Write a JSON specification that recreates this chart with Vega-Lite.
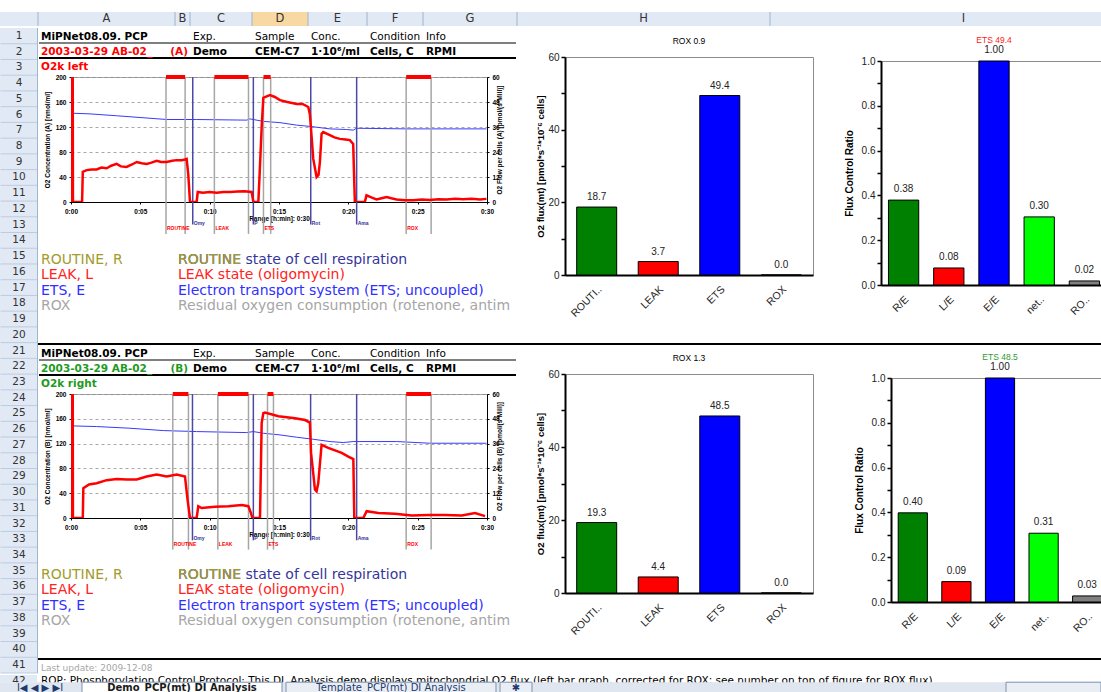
{
"$schema": "https://vega.github.io/schema/vega-lite/v6.json",
"background": "white",
"padding": {"left": 0, "top": 11, "right": 0, "bottom": 0},
"config": {
  "view": {"stroke": null},
  "font": "Liberation Sans",
  "axis": {"minExtent": 0, "labelFont": "Liberation Sans", "titleFont": "Liberation Sans"},
  "axisX": {"minExtent": 0},
  "axisY": {"minExtent": 0},
  "title": {"font": "Liberation Sans"}
},
"datasets": {
  "columns": [
    {"col": "", "s": -38, "e": 0},
    {"col": "A", "s": 0, "e": 137},
    {"col": "B", "s": 137, "e": 152},
    {"col": "C", "s": 152, "e": 214},
    {"col": "D", "s": 214, "e": 270},
    {"col": "E", "s": 270, "e": 329},
    {"col": "F", "s": 329, "e": 385},
    {"col": "G", "s": 385, "e": 479},
    {"col": "H", "s": 479, "e": 732},
    {"col": "I", "s": 732, "e": 1119}
  ],
  "rows": [{"r":1},{"r":2},{"r":3},{"r":4},{"r":5},{"r":6},{"r":7},{"r":8},{"r":9},{"r":10},{"r":11},{"r":12},{"r":13},{"r":14},{"r":15},{"r":16},{"r":17},{"r":18},{"r":19},{"r":20},{"r":21},{"r":22},{"r":23},{"r":24},{"r":25},{"r":26},{"r":27},{"r":28},{"r":29},{"r":30},{"r":31},{"r":32},{"r":33},{"r":34},{"r":35},{"r":36},{"r":37},{"r":38},{"r":39},{"r":40},{"r":41}],
  "hdr": [
    {"chamber": "A", "line": 1, "col": "A", "text": "MiPNet08.09. PCP", "role": "title"},
    {"chamber": "A", "line": 1, "col": "C", "text": "Exp.", "role": "label"},
    {"chamber": "A", "line": 1, "col": "D", "text": "Sample", "role": "label"},
    {"chamber": "A", "line": 1, "col": "E", "text": "Conc.", "role": "label"},
    {"chamber": "A", "line": 1, "col": "F", "text": "Condition", "role": "label"},
    {"chamber": "A", "line": 1, "col": "G", "text": "Info", "role": "label"},
    {"chamber": "A", "line": 2, "col": "A", "text": "2003-03-29 AB-02_", "role": "run"},
    {"chamber": "A", "line": 2, "col": "B", "text": "(A)", "role": "chamber"},
    {"chamber": "A", "line": 2, "col": "C", "text": "Demo", "role": "value"},
    {"chamber": "A", "line": 2, "col": "D", "text": "CEM-C7H2", "role": "value"},
    {"chamber": "A", "line": 2, "col": "E", "text": "1·10⁶/ml", "role": "value"},
    {"chamber": "A", "line": 2, "col": "F", "text": "Cells, CEM", "role": "value"},
    {"chamber": "A", "line": 2, "col": "G", "text": "RPMI", "role": "value"},
    {"chamber": "A", "line": 3, "col": "A", "text": "O2k left", "role": "run"},
    {"chamber": "B", "line": 1, "col": "A", "text": "MiPNet08.09. PCP", "role": "title"},
    {"chamber": "B", "line": 1, "col": "C", "text": "Exp.", "role": "label"},
    {"chamber": "B", "line": 1, "col": "D", "text": "Sample", "role": "label"},
    {"chamber": "B", "line": 1, "col": "E", "text": "Conc.", "role": "label"},
    {"chamber": "B", "line": 1, "col": "F", "text": "Condition", "role": "label"},
    {"chamber": "B", "line": 1, "col": "G", "text": "Info", "role": "label"},
    {"chamber": "B", "line": 2, "col": "A", "text": "2003-03-29 AB-02_", "role": "run"},
    {"chamber": "B", "line": 2, "col": "B", "text": "(B)", "role": "chamber"},
    {"chamber": "B", "line": 2, "col": "C", "text": "Demo", "role": "value"},
    {"chamber": "B", "line": 2, "col": "D", "text": "CEM-C7H2", "role": "value"},
    {"chamber": "B", "line": 2, "col": "E", "text": "1·10⁶/ml", "role": "value"},
    {"chamber": "B", "line": 2, "col": "F", "text": "Cells, CEM", "role": "value"},
    {"chamber": "B", "line": 2, "col": "G", "text": "RPMI", "role": "value"},
    {"chamber": "B", "line": 3, "col": "A", "text": "O2k right", "role": "run"}
  ],
  "legend": [
    {"line": 1, "col": "A", "text": "ROUTINE, R", "state": "ROUTINE"},
    {"line": 1, "col": "B", "text": "ROUTINE state of cell respiration", "state": "desc"},
    {"line": 1, "col": "B", "text": "ROUTINE", "state": "ROUTINE"},
    {"line": 2, "col": "A", "text": "LEAK, L", "state": "LEAK"},
    {"line": 2, "col": "B", "text": "LEAK state (oligomycin)", "state": "LEAK"},
    {"line": 3, "col": "A", "text": "ETS, E", "state": "ETS"},
    {"line": 3, "col": "B", "text": "Electron transport system (ETS; uncoupled)", "state": "ETS"},
    {"line": 4, "col": "A", "text": "ROX", "state": "ROX"},
    {"line": 4, "col": "B", "text": "Residual oxygen consumption (rotenone, antimycin A)", "state": "ROX"}
  ],
  "fluxA": [
    {"t":0,"flux":0},{"t":0.02,"flux":80},{"t":0.12,"flux":80},{"t":0.14,"flux":0},{"t":0.8,"flux":0},{"t":0.85,"flux":14.5},{"t":1.13,"flux":15.3},{"t":1.5,"flux":15.6},{"t":1.85,"flux":15.6},{"t":2.2,"flux":16.5},{"t":2.57,"flux":16.2},{"t":2.9,"flux":17.4},{"t":3.29,"flux":18.3},{"t":3.6,"flux":17.1},{"t":4.01,"flux":16.8},{"t":4.4,"flux":18.0},{"t":4.74,"flux":19.2},{"t":5.1,"flux":18.6},{"t":5.46,"flux":18.3},{"t":5.8,"flux":18.9},{"t":6.18,"flux":19.8},{"t":6.5,"flux":19.2},{"t":6.9,"flux":19.2},{"t":7.3,"flux":19.8},{"t":7.62,"flux":20.1},{"t":8.0,"flux":20.1},{"t":8.22,"flux":20.4},{"t":8.34,"flux":20.7},{"t":8.46,"flux":13},{"t":8.58,"flux":0},{"t":9.06,"flux":0},{"t":9.14,"flux":4.8},{"t":9.5,"flux":4.5},{"t":10,"flux":4.8},{"t":10.5,"flux":4.5},{"t":11,"flux":4.8},{"t":11.5,"flux":4.8},{"t":12,"flux":5.0},{"t":12.5,"flux":5.1},{"t":13.03,"flux":4.8},{"t":13.15,"flux":0},{"t":13.51,"flux":0},{"t":13.58,"flux":10},{"t":13.75,"flux":36},{"t":13.87,"flux":50},{"t":14.11,"flux":50.7},{"t":14.35,"flux":51.3},{"t":14.7,"flux":50.4},{"t":15.07,"flux":48.9},{"t":15.6,"flux":48.0},{"t":16.27,"flux":47.1},{"t":16.7,"flux":47.1},{"t":17.11,"flux":45.6},{"t":17.23,"flux":42},{"t":17.47,"flux":20.7},{"t":17.71,"flux":12},{"t":17.85,"flux":13},{"t":17.95,"flux":19.2},{"t":18.07,"flux":32.7},{"t":18.19,"flux":33.6},{"t":18.67,"flux":32.1},{"t":19.0,"flux":31},{"t":19.39,"flux":30.3},{"t":19.8,"flux":30},{"t":20.11,"flux":29.7},{"t":20.35,"flux":27.9},{"t":20.47,"flux":0},{"t":21.19,"flux":0},{"t":21.31,"flux":3.2},{"t":21.7,"flux":2.1},{"t":22.03,"flux":1.2},{"t":22.4,"flux":1.8},{"t":22.76,"flux":2.4},{"t":23.1,"flux":1.8},{"t":23.48,"flux":1.2},{"t":24.1,"flux":0.9},{"t":24.68,"flux":0.9},{"t":25.3,"flux":1.2},{"t":25.88,"flux":1.0},{"t":26.5,"flux":1.3},{"t":27.08,"flux":1.2},{"t":27.7,"flux":1.5},{"t":28.28,"flux":1.3},{"t":28.9,"flux":1.5},{"t":29.5,"flux":1.2},{"t":29.96,"flux":1.5}
  ],
  "fluxB": [
    {"t":0,"flux":0},{"t":0.02,"flux":80},{"t":0.12,"flux":80},{"t":0.14,"flux":0},{"t":0.85,"flux":0},{"t":0.89,"flux":14.4},{"t":1.3,"flux":16.2},{"t":1.85,"flux":16.8},{"t":2.57,"flux":18.3},{"t":3.29,"flux":18.9},{"t":4.01,"flux":18.6},{"t":4.74,"flux":18.6},{"t":5.46,"flux":20.1},{"t":6.18,"flux":21.0},{"t":6.9,"flux":20.1},{"t":7.62,"flux":21.0},{"t":8.22,"flux":20.1},{"t":8.41,"flux":8.7},{"t":8.58,"flux":0},{"t":9.06,"flux":0},{"t":9.18,"flux":5.7},{"t":9.42,"flux":4.8},{"t":10.38,"flux":5.4},{"t":11.35,"flux":5.7},{"t":12.31,"flux":6.3},{"t":12.79,"flux":5.7},{"t":12.98,"flux":2.4},{"t":13.08,"flux":0},{"t":13.63,"flux":0},{"t":13.75,"flux":45.9},{"t":13.87,"flux":50.7},{"t":13.99,"flux":51},{"t":14.96,"flux":49.2},{"t":16.16,"flux":48.3},{"t":16.88,"flux":47.4},{"t":17.23,"flux":46.2},{"t":17.31,"flux":31.5},{"t":17.47,"flux":21.6},{"t":17.59,"flux":13.8},{"t":17.71,"flux":12.9},{"t":17.83,"flux":16.8},{"t":18.07,"flux":35.4},{"t":18.55,"flux":33.9},{"t":19.52,"flux":31.5},{"t":20.0,"flux":29.7},{"t":20.36,"flux":28.5},{"t":20.43,"flux":0},{"t":21.08,"flux":0},{"t":21.32,"flux":3.3},{"t":22.16,"flux":2.4},{"t":23.36,"flux":2.1},{"t":24.57,"flux":1.2},{"t":25.77,"flux":1.5},{"t":26.97,"flux":1.5},{"t":28.18,"flux":1.2},{"t":29.14,"flux":2.4},{"t":29.86,"flux":0.9}
  ],
  "concA": [
    {"t":0.17,"o2":142},{"t":1.37,"o2":141},{"t":3.29,"o2":138},{"t":5.7,"o2":134},{"t":6.9,"o2":132},{"t":9.06,"o2":132},{"t":12.67,"o2":131},{"t":12.9,"o2":133},{"t":13.87,"o2":129},{"t":15.07,"o2":127},{"t":16.27,"o2":123},{"t":17.23,"o2":121},{"t":18.67,"o2":117},{"t":19.87,"o2":116},{"t":20.35,"o2":115},{"t":20.59,"o2":118},{"t":24.2,"o2":117},{"t":29.96,"o2":117}
  ],
  "concB": [
    {"t":0.0,"o2":138},{"t":0.05,"o2":148},{"t":0.17,"o2":148.5},{"t":1.85,"o2":147.5},{"t":4.25,"o2":144.8},{"t":6.66,"o2":141},{"t":9.06,"o2":139.4},{"t":11.47,"o2":138.3},{"t":12.67,"o2":137.8},{"t":13.15,"o2":139.4},{"t":13.87,"o2":136.7},{"t":15.07,"o2":134},{"t":16.27,"o2":130.3},{"t":17.47,"o2":127},{"t":18.67,"o2":123.3},{"t":19.63,"o2":121.7},{"t":20.35,"o2":123.3},{"t":23.48,"o2":123.3},{"t":25.88,"o2":120.6},{"t":29.96,"o2":120.6}
  ],
  "eventsA": [
    {"label":"ROUTINE","t0":6.85,"t1":8.23},{"label":"LEAK","t0":10.34,"t1":12.8},{"label":"ETS","t0":13.88,"t1":14.4},{"label":"ROX","t0":24.17,"t1":25.97}
  ],
  "eventsB": [
    {"label":"ROUTINE","t0":7.34,"t1":8.47},{"label":"LEAK","t0":10.59,"t1":12.8},{"label":"ETS","t0":14.17,"t1":14.6},{"label":"ROX","t0":24.17,"t1":25.97}
  ],
  "injA": [
    {"label":"Omy","t":8.78},{"label":"P","t":13.15},{"label":"Rot","t":17.29},{"label":"Ama","t":20.6}
  ],
  "injB": [
    {"label":"Omy","t":8.76},{"label":"P","t":13.15},{"label":"Rot","t":17.28},{"label":"Ama","t":20.6}
  ],
  "fluxBarsA": [
    {"state":"ROUTINE","flux":18.7},{"state":"LEAK","flux":3.7},{"state":"ETS","flux":49.4},{"state":"ROX","flux":0.0}
  ],
  "fluxBarsB": [
    {"state":"ROUTINE","flux":19.3},{"state":"LEAK","flux":4.4},{"state":"ETS","flux":48.5},{"state":"ROX","flux":0.0}
  ],
  "fcrA": [
    {"ratio":"R/E","fcr":0.379},{"ratio":"L/E","fcr":0.076},{"ratio":"E/E","fcr":1.0},{"ratio":"netR/E","fcr":0.304},{"ratio":"ROX/E","fcr":0.018}
  ],
  "fcrB": [
    {"ratio":"R/E","fcr":0.398},{"ratio":"L/E","fcr":0.091},{"ratio":"E/E","fcr":1.0},{"ratio":"netR/E","fcr":0.307},{"ratio":"ROX/E","fcr":0.027}
  ],
  "tabs": [
    {"label":"I◀  ◀  ▶  ▶I","s":0,"e":80,"kind":"nav"},
    {"label":"Demo_PCP(mt) DI Analysis","s":82,"e":282,"kind":"active"},
    {"label":"Template_PCP(mt) DI Analysis","s":286,"e":496,"kind":"tab"},
    {"label":"✱","s":500,"e":532,"kind":"tab"},
    {"label":"","s":1006,"e":1101,"kind":"scroll"}
  ]
},
"spacing": 0,
"resolve": {"scale": {"color": "independent"}},
"vconcat": [
  {
    "width": 1101, "height": 14,
    "data": {"name": "columns"},
    "layer": [
      {"mark": {"type": "rect"},
       "encoding": {
         "x": {"field": "s", "type": "quantitative", "scale": {"domain": [-38, 1063], "nice": false, "zero": false}, "axis": null},
         "x2": {"field": "e"},
         "fill": {"condition": {"test": "datum.col === 'D'", "value": "#f9d9a3"}, "value": "#e1e9f5"}
       }},
      {"mark": {"type": "rule", "color": "#9eb6ce"},
       "encoding": {"x": {"field": "e", "type": "quantitative", "axis": null}}},
      {"transform": [{"fold": ["s", "e"]}],
       "mark": {"type": "text", "font": "DejaVu Sans", "fontSize": 11.5, "color": "#333333", "baseline": "middle"},
       "encoding": {
         "x": {"aggregate": "mean", "field": "value", "type": "quantitative", "axis": null},
         "text": {"field": "col", "type": "nominal"}
       }}
    ]
  },
  {
    "spacing": 0,
    "resolve": {"scale": {"color": "independent"}},
    "hconcat": [
      {
        "width": 38, "height": 645,
        "data": {"name": "rows"},
        "layer": [
          {"mark": {"type": "rect", "fill": "#e1e9f5"},
           "encoding": {"y": {"field": "r", "type": "ordinal", "scale": {"paddingInner": 0, "paddingOuter": 0}, "axis": null}}},
          {"mark": {"type": "rule", "color": "#bccbe0", "strokeWidth": 1},
           "encoding": {
             "y": {"field": "r", "type": "ordinal", "bandPosition": 1, "axis": null},
             "x": {"datum": 0.5, "type": "quantitative", "scale": {"domain": [0, 38], "nice": false, "zero": false}, "axis": null},
             "x2": {"datum": 37.5}
           }},
          {"mark": {"type": "rule", "color": "#9eb6ce"},
           "encoding": {"x": {"datum": 37.5, "type": "quantitative", "axis": null}}},
          {"mark": {"type": "text", "font": "DejaVu Sans", "fontSize": 10.5, "color": "#333333", "baseline": "middle"},
           "encoding": {
             "y": {"field": "r", "type": "ordinal", "axis": null},
             "x": {"datum": 19, "type": "quantitative", "axis": null},
             "text": {"field": "r", "type": "ordinal"}
           }}
        ]
      },
      {
        "spacing": 0,
        "resolve": {"scale": {"color": "independent"}},
        "vconcat": [
          {
            "spacing": 17,
            "resolve": {"scale": {"color": "independent"}},
            "hconcat": [
              {
                "spacing": 0,
                "resolve": {"scale": {"color": "independent"}},
                "vconcat": [
                  {
                    "width": 440, "height": 45,
                    "data": {"name": "hdr"},
                    "transform": [
                      {"filter": "datum.chamber === 'A'"},
                      {"lookup": "col", "from": {"data": {"name": "columns"}, "key": "col", "fields": ["s", "e"]}}
                    ],
                    "encoding": {
                      "x": {"field": "s", "type": "quantitative", "scale": {"domain": [33, 473], "nice": false, "zero": false}, "axis": null},
                      "y": {"field": "line", "type": "ordinal", "scale": {"domain": [1, 2, 3], "paddingInner": 0, "paddingOuter": 0}, "axis": null}
                    },
                    "layer": [
                      {"transform": [{"filter": "datum.role === 'title'"}],
                       "mark": {"type": "rule", "color": "#7f7f7f", "strokeWidth": 2},
                       "encoding": {"y": {"field": "line", "type": "ordinal", "bandPosition": 1, "axis": null}, "x": {"datum": 1, "type": "quantitative", "axis": null}, "x2": {"datum": 478}}},
                      {"transform": [{"filter": "datum.role === 'value' && datum.col === 'C'"}],
                       "mark": {"type": "rule", "color": "black", "strokeWidth": 2},
                       "encoding": {"y": {"field": "line", "type": "ordinal", "bandPosition": 1, "axis": null}, "x": {"datum": 1, "type": "quantitative", "axis": null}, "x2": {"datum": 478}}},
                      {"transform": [{"filter": "datum.role === 'label'"}],
                       "mark": {"type": "text", "font": "DejaVu Sans", "fontSize": 10.5, "align": "left", "baseline": "middle", "dx": 3, "dy": 1, "color": "black"},
                       "encoding": {"text": {"field": "text"}}},
                      {"transform": [{"filter": "datum.role === 'title' || (datum.role === 'value' && datum.col !== 'D' && datum.col !== 'F')"}],
                       "mark": {"type": "text", "font": "DejaVu Sans", "fontSize": 10.5, "fontWeight": "bold", "align": "left", "baseline": "middle", "dx": 3, "dy": 1, "color": "black"},
                       "encoding": {"text": {"field": "text"}}},
                      {"transform": [{"filter": "datum.role === 'value' && (datum.col === 'D' || datum.col === 'F')"}],
                       "mark": {"type": "text", "font": "DejaVu Sans", "fontSize": 10.5, "fontWeight": "bold", "align": "left", "baseline": "middle", "dx": 3, "dy": 1, "color": "black", "limit": 49, "ellipsis": "\u200b"},
                       "encoding": {"text": {"field": "text"}}},
                      {"transform": [{"filter": "datum.role === 'run'"}],
                       "mark": {"type": "text", "font": "DejaVu Sans", "fontSize": 10.5, "fontWeight": "bold", "align": "left", "baseline": "middle", "dx": 3, "dy": 1, "color": "#ff0000"},
                       "encoding": {"text": {"field": "text"}}},
                      {"transform": [{"filter": "datum.role === 'chamber'"}],
                       "mark": {"type": "text", "font": "DejaVu Sans", "fontSize": 10.5, "fontWeight": "bold", "align": "right", "baseline": "middle", "dx": -2, "dy": 1, "color": "#ff0000"},
                       "encoding": {"x": {"field": "e", "type": "quantitative", "axis": null}, "text": {"field": "text"}}}
                    ]
                  },
                  {
                    "width": 416, "height": 125,
                    "view": {"stroke": "#8c8c8c", "strokeWidth": 1},
                    "layer": [
                      {"data": {"name": "concA"},
                       "mark": {"type": "line", "color": "#3a3aff", "strokeWidth": 1, "clip": true},
                       "encoding": {
                         "x": {"field": "t", "type": "quantitative", "scale": {"domain": [0, 30], "nice": false},
                               "axis": {"values": [0, 5, 10, 15, 20, 25, 30], "labelExpr": "'0:' + (datum.value < 10 ? '0' : '') + datum.value", "labelFontSize": 6.5, "labelFontWeight": "bold", "labelColor": "black", "labelFlush": false, "tickSize": 2, "tickColor": "black", "labelPadding": 4, "domainColor": "black", "grid": false, "title": "Range [h:min]: 0:30", "titleFontSize": 6.5, "titleFontWeight": "bold", "titleColor": "black", "titlePadding": 1, "minExtent": 0}},
                         "y": {"field": "o2", "type": "quantitative", "scale": {"domain": [0, 200], "nice": false},
                               "axis": {"values": [0, 40, 80, 120, 160, 200], "grid": true, "gridDash": [3, 3], "gridColor": "#a8a8a8", "labelFontSize": 6.5, "labelFontWeight": "bold", "labelColor": "black", "labelFlush": false, "tickSize": 2, "tickColor": "black", "labelPadding": 3, "domainColor": "black", "title": "O2 Concentration (A) [nmol/ml]", "titleFontSize": 6.5, "titleFontWeight": "bold", "titleColor": "black", "titlePadding": 5, "minExtent": 0}}
                       }},
                      {"data": {"name": "eventsA"},
                       "mark": {"type": "rule", "color": "#a6a6a6", "strokeWidth": 1.5},
                       "encoding": {"x": {"field": "t0", "type": "quantitative"}, "y": {"datum": 200, "type": "quantitative", "scale": {"domain": [0, 200], "nice": false}, "axis": null}, "y2": {"datum": -51}}},
                      {"data": {"name": "eventsA"},
                       "mark": {"type": "rule", "color": "#a6a6a6", "strokeWidth": 1.5},
                       "encoding": {"x": {"field": "t1", "type": "quantitative"}, "y": {"datum": 200, "type": "quantitative", "scale": {"domain": [0, 200], "nice": false}, "axis": null}, "y2": {"datum": -51}}},
                      {"data": {"name": "injA"},
                       "mark": {"type": "rule", "color": "#4a4aa6", "strokeWidth": 1.5},
                       "encoding": {"x": {"field": "t", "type": "quantitative"}, "y": {"datum": 200, "type": "quantitative", "scale": {"domain": [0, 200], "nice": false}, "axis": null}, "y2": {"datum": -36}}},
                      {"data": {"name": "eventsA"},
                       "mark": {"type": "rule", "color": "#ff0000", "strokeWidth": 4},
                       "encoding": {"x": {"field": "t0", "type": "quantitative"}, "x2": {"field": "t1"}, "y": {"datum": 200, "type": "quantitative", "scale": {"domain": [0, 200], "nice": false}, "axis": null}}},
                      {"data": {"name": "eventsA"},
                       "mark": {"type": "text", "color": "#ff0000", "fontSize": 5, "fontWeight": "bold", "align": "left", "baseline": "middle", "dx": 1},
                       "encoding": {"x": {"field": "t0", "type": "quantitative"}, "y": {"datum": -42, "type": "quantitative", "scale": {"domain": [0, 200], "nice": false}, "axis": null}, "text": {"field": "label"}}},
                      {"data": {"name": "injA"},
                       "mark": {"type": "text", "color": "#33339a", "fontSize": 5, "fontWeight": "bold", "align": "left", "baseline": "middle", "dx": 1},
                       "encoding": {"x": {"field": "t", "type": "quantitative"}, "y": {"datum": -33, "type": "quantitative", "scale": {"domain": [0, 200], "nice": false}, "axis": null}, "text": {"field": "label"}}},
                      {"data": {"name": "fluxA"},
                       "mark": {"type": "line", "color": "#ff0000", "strokeWidth": 2.5, "clip": true},
                       "encoding": {
                         "x": {"field": "t", "type": "quantitative"},
                         "y": {"field": "flux", "type": "quantitative", "scale": {"domain": [0, 60], "nice": false},
                               "axis": {"orient": "right", "values": [0, 12, 24, 36, 48, 60], "grid": false, "labelFontSize": 6.5, "labelFontWeight": "bold", "labelColor": "black", "labelFlush": false, "tickSize": 2, "tickColor": "black", "labelPadding": 3, "domainColor": "black", "title": "O2 Flow per cells (A) [pmol/(s*Mill)]", "titleFontSize": 6.5, "titleFontWeight": "bold", "titleColor": "black", "titlePadding": 3, "titleAngle": 270, "minExtent": 0}}
                       }}
                    ],
                    "resolve": {"scale": {"y": "independent"}}
                  },
                  {
                    "width": 440, "height": 107,
                    "data": {"name": "legend"},
                    "transform": [{"lookup": "col", "from": {"data": {"name": "columns"}, "key": "col", "fields": ["s"]}}],
                    "mark": {"type": "text", "font": "DejaVu Sans", "fontSize": 14, "align": "left", "baseline": "middle", "dx": 3, "dy": 1, "limit": 338, "ellipsis": "\u200b"},
                    "encoding": {
                      "x": {"field": "s", "type": "quantitative", "scale": {"domain": [33, 473], "nice": false, "zero": false}, "axis": null},
                      "y": {"field": "line", "type": "ordinal", "scale": {"domain": [0, 1, 2, 3, 4, 5, 6], "paddingInner": 0, "paddingOuter": 0}, "axis": null},
                      "text": {"field": "text"},
                      "color": {"field": "state", "type": "nominal", "scale": {"domain": ["ROUTINE", "LEAK", "ETS", "ROX", "desc"], "range": ["#a39b2b", "#ff2222", "#2f2fff", "#a6a6a6", "#35359b"]}, "legend": null}
                    }
                  }
                ]
              },
              {
                "spacing": 0,
                "resolve": {"scale": {"color": "independent"}},
                "vconcat": [
                  {"width": 261, "height": 8, "data": {"values": []}, "mark": "point"},
                  {
                    "width": 248, "height": 218,
                    "view": {"stroke": "#8c8c8c", "strokeWidth": 1},
                    "title": {"text": "ROX 0.9", "fontSize": 8.5, "fontWeight": "normal", "offset": 7, "color": "black", "frame": "group"},
                    "data": {"name": "fluxBarsA"},
                    "encoding": {
                      "x": {"field": "state", "type": "nominal", "sort": null, "scale": {"paddingInner": 0.35, "paddingOuter": 0.19},
                            "axis": {"title": null, "labelAngle": -45, "labelFontSize": 10.5, "labelColor": "#222222", "labelExpr": "datum.label == 'ROUTINE' ? 'ROUTI..' : datum.label", "domainColor": "black", "domainWidth": 2, "ticks": false, "labelPadding": 9}},
                      "y": {"field": "flux", "type": "quantitative", "scale": {"domain": [0, 60], "nice": false},
                            "axis": {"values": [0, 10, 20, 30, 40, 50, 60], "labelExpr": "datum.value % 20 === 0 ? datum.label : ''", "grid": false, "domainColor": "black", "domainWidth": 2, "tickColor": "black", "tickSize": 4, "tickWidth": 1.5, "labelFontSize": 10, "labelColor": "#222222", "labelPadding": 2, "labelFlush": false, "title": "O2 flux(mt) [pmol*s⁻¹*10⁻⁶ cells]", "titleFontSize": 9.5, "titleFontWeight": "bold", "titleColor": "black", "titlePadding": 2, "minExtent": 0}}
                    },
                    "layer": [
                      {"mark": {"type": "bar", "stroke": "black", "strokeWidth": 1},
                       "encoding": {"color": {"field": "state", "type": "nominal", "scale": {"domain": ["ROUTINE", "LEAK", "ETS", "ROX"], "range": ["#008000", "#ff0000", "#0000ff", "#808080"]}, "legend": null}}},
                      {"mark": {"type": "text", "baseline": "bottom", "dy": -5, "fontSize": 10, "color": "#222222"},
                       "encoding": {"text": {"field": "flux", "type": "quantitative", "format": ".1f"}}}
                    ]
                  }
                ]
              },
              {
                "spacing": 0,
                "resolve": {"scale": {"color": "independent"}},
                "vconcat": [
                  {"width": 1, "height": 7, "data": {"values": []}, "mark": "point"},
                  {
                    "width": 226, "height": 224,
                    "view": {"stroke": "#8c8c8c", "strokeWidth": 1},
                    "title": {"text": "ETS 49.4", "fontSize": 8.5, "fontWeight": "normal", "offset": 1, "color": "#ff2020", "frame": "group"},
                    "data": {"name": "fcrA"},
                    "encoding": {
                      "x": {"field": "ratio", "type": "nominal", "sort": null, "scale": {"paddingInner": 0.33, "paddingOuter": 0.165},
                            "axis": {"title": null, "labelAngle": -45, "labelFontSize": 10.5, "labelColor": "#222222", "labelExpr": "datum.label == 'netR/E' ? 'net..' : datum.label == 'ROX/E' ? 'RO..' : datum.label", "domainColor": "black", "domainWidth": 2, "ticks": false, "labelPadding": 9}},
                      "y": {"field": "fcr", "type": "quantitative", "scale": {"domain": [0, 1], "nice": false},
                            "axis": {"values": [0, 0.1, 0.2, 0.3, 0.4, 0.5, 0.6, 0.7, 0.8, 0.9, 1.0], "labelExpr": "round(datum.value * 10) % 2 === 0 ? format(datum.value, '.1f') : ''", "grid": false, "domainColor": "black", "domainWidth": 2, "tickColor": "black", "tickSize": 4, "tickWidth": 1.5, "labelFontSize": 10, "labelColor": "#222222", "labelPadding": 2, "labelFlush": false, "title": "Flux Control Ratio", "titleFontSize": 10, "titleFontWeight": "bold", "titleColor": "black", "titlePadding": 7, "minExtent": 0}}
                    },
                    "layer": [
                      {"mark": {"type": "bar", "stroke": "black", "strokeWidth": 1},
                       "encoding": {"color": {"field": "ratio", "type": "nominal", "scale": {"domain": ["R/E", "L/E", "E/E", "netR/E", "ROX/E"], "range": ["#008000", "#ff0000", "#0000ff", "#00ff00", "#808080"]}, "legend": null}}},
                      {"mark": {"type": "text", "baseline": "bottom", "dy": -6, "fontSize": 10, "color": "#222222"},
                       "encoding": {"text": {"field": "fcr", "type": "quantitative", "format": ".2f"}}}
                    ]
                  }
                ]
              }
            ]
          },
          {
            "width": 1030, "height": 2,
            "data": {"values": [{"k": 1}]},
            "mark": {"type": "rect", "color": "black"},
            "encoding": {"x": {"datum": 0, "type": "quantitative", "scale": {"domain": [33, 1063], "nice": false, "zero": false}, "axis": null}, "x2": {"datum": 1063}}
          },
          {
            "spacing": 17,
            "resolve": {"scale": {"color": "independent"}},
            "hconcat": [
              {
                "spacing": 0,
                "resolve": {"scale": {"color": "independent"}},
                "vconcat": [
                  {
                    "width": 440, "height": 45,
                    "data": {"name": "hdr"},
                    "transform": [
                      {"filter": "datum.chamber === 'B'"},
                      {"lookup": "col", "from": {"data": {"name": "columns"}, "key": "col", "fields": ["s", "e"]}}
                    ],
                    "encoding": {
                      "x": {"field": "s", "type": "quantitative", "scale": {"domain": [33, 473], "nice": false, "zero": false}, "axis": null},
                      "y": {"field": "line", "type": "ordinal", "scale": {"domain": [1, 2, 3], "paddingInner": 0, "paddingOuter": 0}, "axis": null}
                    },
                    "layer": [
                      {"transform": [{"filter": "datum.role === 'title'"}],
                       "mark": {"type": "rule", "color": "#7f7f7f", "strokeWidth": 2},
                       "encoding": {"y": {"field": "line", "type": "ordinal", "bandPosition": 1, "axis": null}, "x": {"datum": 1, "type": "quantitative", "axis": null}, "x2": {"datum": 478}}},
                      {"transform": [{"filter": "datum.role === 'value' && datum.col === 'C'"}],
                       "mark": {"type": "rule", "color": "black", "strokeWidth": 2},
                       "encoding": {"y": {"field": "line", "type": "ordinal", "bandPosition": 1, "axis": null}, "x": {"datum": 1, "type": "quantitative", "axis": null}, "x2": {"datum": 478}}},
                      {"transform": [{"filter": "datum.role === 'label'"}],
                       "mark": {"type": "text", "font": "DejaVu Sans", "fontSize": 10.5, "align": "left", "baseline": "middle", "dx": 3, "dy": 1, "color": "black"},
                       "encoding": {"text": {"field": "text"}}},
                      {"transform": [{"filter": "datum.role === 'title' || (datum.role === 'value' && datum.col !== 'D' && datum.col !== 'F')"}],
                       "mark": {"type": "text", "font": "DejaVu Sans", "fontSize": 10.5, "fontWeight": "bold", "align": "left", "baseline": "middle", "dx": 3, "dy": 1, "color": "black"},
                       "encoding": {"text": {"field": "text"}}},
                      {"transform": [{"filter": "datum.role === 'value' && (datum.col === 'D' || datum.col === 'F')"}],
                       "mark": {"type": "text", "font": "DejaVu Sans", "fontSize": 10.5, "fontWeight": "bold", "align": "left", "baseline": "middle", "dx": 3, "dy": 1, "color": "black", "limit": 49, "ellipsis": "\u200b"},
                       "encoding": {"text": {"field": "text"}}},
                      {"transform": [{"filter": "datum.role === 'run'"}],
                       "mark": {"type": "text", "font": "DejaVu Sans", "fontSize": 10.5, "fontWeight": "bold", "align": "left", "baseline": "middle", "dx": 3, "dy": 1, "color": "#1f9a1f"},
                       "encoding": {"text": {"field": "text"}}},
                      {"transform": [{"filter": "datum.role === 'chamber'"}],
                       "mark": {"type": "text", "font": "DejaVu Sans", "fontSize": 10.5, "fontWeight": "bold", "align": "right", "baseline": "middle", "dx": -2, "dy": 1, "color": "#1f9a1f"},
                       "encoding": {"x": {"field": "e", "type": "quantitative", "axis": null}, "text": {"field": "text"}}}
                    ]
                  },
                  {
                    "width": 416, "height": 124,
                    "view": {"stroke": "#8c8c8c", "strokeWidth": 1},
                    "layer": [
                      {"data": {"name": "concB"},
                       "mark": {"type": "line", "color": "#3a3aff", "strokeWidth": 1, "clip": true},
                       "encoding": {
                         "x": {"field": "t", "type": "quantitative", "scale": {"domain": [0, 30], "nice": false},
                               "axis": {"values": [0, 5, 10, 15, 20, 25, 30], "labelExpr": "'0:' + (datum.value < 10 ? '0' : '') + datum.value", "labelFontSize": 6.5, "labelFontWeight": "bold", "labelColor": "black", "labelFlush": false, "tickSize": 2, "tickColor": "black", "labelPadding": 4, "domainColor": "black", "grid": false, "title": "Range [h:min]: 0:30", "titleFontSize": 6.5, "titleFontWeight": "bold", "titleColor": "black", "titlePadding": 1, "minExtent": 0}},
                         "y": {"field": "o2", "type": "quantitative", "scale": {"domain": [0, 200], "nice": false},
                               "axis": {"values": [0, 40, 80, 120, 160, 200], "grid": true, "gridDash": [3, 3], "gridColor": "#a8a8a8", "labelFontSize": 6.5, "labelFontWeight": "bold", "labelColor": "black", "labelFlush": false, "tickSize": 2, "tickColor": "black", "labelPadding": 3, "domainColor": "black", "title": "O2 Concentration (B) [nmol/ml]", "titleFontSize": 6.5, "titleFontWeight": "bold", "titleColor": "black", "titlePadding": 5, "minExtent": 0}}
                       }},
                      {"data": {"name": "eventsB"},
                       "mark": {"type": "rule", "color": "#a6a6a6", "strokeWidth": 1.5},
                       "encoding": {"x": {"field": "t0", "type": "quantitative"}, "y": {"datum": 200, "type": "quantitative", "scale": {"domain": [0, 200], "nice": false}, "axis": null}, "y2": {"datum": -51}}},
                      {"data": {"name": "eventsB"},
                       "mark": {"type": "rule", "color": "#a6a6a6", "strokeWidth": 1.5},
                       "encoding": {"x": {"field": "t1", "type": "quantitative"}, "y": {"datum": 200, "type": "quantitative", "scale": {"domain": [0, 200], "nice": false}, "axis": null}, "y2": {"datum": -51}}},
                      {"data": {"name": "injB"},
                       "mark": {"type": "rule", "color": "#4a4aa6", "strokeWidth": 1.5},
                       "encoding": {"x": {"field": "t", "type": "quantitative"}, "y": {"datum": 200, "type": "quantitative", "scale": {"domain": [0, 200], "nice": false}, "axis": null}, "y2": {"datum": -36}}},
                      {"data": {"name": "eventsB"},
                       "mark": {"type": "rule", "color": "#ff0000", "strokeWidth": 4},
                       "encoding": {"x": {"field": "t0", "type": "quantitative"}, "x2": {"field": "t1"}, "y": {"datum": 200, "type": "quantitative", "scale": {"domain": [0, 200], "nice": false}, "axis": null}}},
                      {"data": {"name": "eventsB"},
                       "mark": {"type": "text", "color": "#ff0000", "fontSize": 5, "fontWeight": "bold", "align": "left", "baseline": "middle", "dx": 1},
                       "encoding": {"x": {"field": "t0", "type": "quantitative"}, "y": {"datum": -42, "type": "quantitative", "scale": {"domain": [0, 200], "nice": false}, "axis": null}, "text": {"field": "label"}}},
                      {"data": {"name": "injB"},
                       "mark": {"type": "text", "color": "#33339a", "fontSize": 5, "fontWeight": "bold", "align": "left", "baseline": "middle", "dx": 1},
                       "encoding": {"x": {"field": "t", "type": "quantitative"}, "y": {"datum": -33, "type": "quantitative", "scale": {"domain": [0, 200], "nice": false}, "axis": null}, "text": {"field": "label"}}},
                      {"data": {"name": "fluxB"},
                       "mark": {"type": "line", "color": "#ff0000", "strokeWidth": 2.5, "clip": true},
                       "encoding": {
                         "x": {"field": "t", "type": "quantitative"},
                         "y": {"field": "flux", "type": "quantitative", "scale": {"domain": [0, 60], "nice": false},
                               "axis": {"orient": "right", "values": [0, 12, 24, 36, 48, 60], "grid": false, "labelFontSize": 6.5, "labelFontWeight": "bold", "labelColor": "black", "labelFlush": false, "tickSize": 2, "tickColor": "black", "labelPadding": 3, "domainColor": "black", "title": "O2 Flow per cells (B) [pmol/(s*Mill)]", "titleFontSize": 6.5, "titleFontWeight": "bold", "titleColor": "black", "titlePadding": 3, "titleAngle": 270, "minExtent": 0}}
                       }}
                    ],
                    "resolve": {"scale": {"y": "independent"}}
                  },
                  {
                    "width": 440, "height": 107,
                    "data": {"name": "legend"},
                    "transform": [{"lookup": "col", "from": {"data": {"name": "columns"}, "key": "col", "fields": ["s"]}}],
                    "mark": {"type": "text", "font": "DejaVu Sans", "fontSize": 14, "align": "left", "baseline": "middle", "dx": 3, "dy": 1, "limit": 338, "ellipsis": "\u200b"},
                    "encoding": {
                      "x": {"field": "s", "type": "quantitative", "scale": {"domain": [33, 473], "nice": false, "zero": false}, "axis": null},
                      "y": {"field": "line", "type": "ordinal", "scale": {"domain": [0, 1, 2, 3, 4, 5, 6], "paddingInner": 0, "paddingOuter": 0}, "axis": null},
                      "text": {"field": "text"},
                      "color": {"field": "state", "type": "nominal", "scale": {"domain": ["ROUTINE", "LEAK", "ETS", "ROX", "desc"], "range": ["#a39b2b", "#ff2222", "#2f2fff", "#a6a6a6", "#35359b"]}, "legend": null}
                    }
                  }
                ]
              },
              {
                "spacing": 0,
                "resolve": {"scale": {"color": "independent"}},
                "vconcat": [
                  {"width": 271, "height": 8, "data": {"values": []}, "mark": "point"},
                  {
                    "width": 248, "height": 219,
                    "view": {"stroke": "#8c8c8c", "strokeWidth": 1},
                    "title": {"text": "ROX 1.3", "fontSize": 8.5, "fontWeight": "normal", "offset": 7, "color": "black", "frame": "group"},
                    "data": {"name": "fluxBarsB"},
                    "encoding": {
                      "x": {"field": "state", "type": "nominal", "sort": null, "scale": {"paddingInner": 0.35, "paddingOuter": 0.19},
                            "axis": {"title": null, "labelAngle": -45, "labelFontSize": 10.5, "labelColor": "#222222", "labelExpr": "datum.label == 'ROUTINE' ? 'ROUTI..' : datum.label", "domainColor": "black", "domainWidth": 2, "ticks": false, "labelPadding": 9}},
                      "y": {"field": "flux", "type": "quantitative", "scale": {"domain": [0, 60], "nice": false},
                            "axis": {"values": [0, 10, 20, 30, 40, 50, 60], "labelExpr": "datum.value % 20 === 0 ? datum.label : ''", "grid": false, "domainColor": "black", "domainWidth": 2, "tickColor": "black", "tickSize": 4, "tickWidth": 1.5, "labelFontSize": 10, "labelColor": "#222222", "labelPadding": 2, "labelFlush": false, "title": "O2 flux(mt) [pmol*s⁻¹*10⁻⁶ cells]", "titleFontSize": 9.5, "titleFontWeight": "bold", "titleColor": "black", "titlePadding": 2, "minExtent": 0}}
                    },
                    "layer": [
                      {"mark": {"type": "bar", "stroke": "black", "strokeWidth": 1},
                       "encoding": {"color": {"field": "state", "type": "nominal", "scale": {"domain": ["ROUTINE", "LEAK", "ETS", "ROX"], "range": ["#008000", "#ff0000", "#0000ff", "#808080"]}, "legend": null}}},
                      {"mark": {"type": "text", "baseline": "bottom", "dy": -5, "fontSize": 10, "color": "#222222"},
                       "encoding": {"text": {"field": "flux", "type": "quantitative", "format": ".1f"}}}
                    ]
                  }
                ]
              },
              {
                "spacing": 0,
                "resolve": {"scale": {"color": "independent"}},
                "vconcat": [
                  {"width": 1, "height": 7, "data": {"values": []}, "mark": "point"},
                  {
                    "width": 218, "height": 224,
                    "view": {"stroke": "#8c8c8c", "strokeWidth": 1},
                    "title": {"text": "ETS 48.5", "fontSize": 8.5, "fontWeight": "normal", "offset": 1, "color": "#2e9b2e", "frame": "group"},
                    "data": {"name": "fcrB"},
                    "encoding": {
                      "x": {"field": "ratio", "type": "nominal", "sort": null, "scale": {"paddingInner": 0.33, "paddingOuter": 0.165},
                            "axis": {"title": null, "labelAngle": -45, "labelFontSize": 10.5, "labelColor": "#222222", "labelExpr": "datum.label == 'netR/E' ? 'net..' : datum.label == 'ROX/E' ? 'RO..' : datum.label", "domainColor": "black", "domainWidth": 2, "ticks": false, "labelPadding": 9}},
                      "y": {"field": "fcr", "type": "quantitative", "scale": {"domain": [0, 1], "nice": false},
                            "axis": {"values": [0, 0.1, 0.2, 0.3, 0.4, 0.5, 0.6, 0.7, 0.8, 0.9, 1.0], "labelExpr": "round(datum.value * 10) % 2 === 0 ? format(datum.value, '.1f') : ''", "grid": false, "domainColor": "black", "domainWidth": 2, "tickColor": "black", "tickSize": 4, "tickWidth": 1.5, "labelFontSize": 10, "labelColor": "#222222", "labelPadding": 2, "labelFlush": false, "title": "Flux Control Ratio", "titleFontSize": 10, "titleFontWeight": "bold", "titleColor": "black", "titlePadding": 7, "minExtent": 0}}
                    },
                    "layer": [
                      {"mark": {"type": "bar", "stroke": "black", "strokeWidth": 1},
                       "encoding": {"color": {"field": "ratio", "type": "nominal", "scale": {"domain": ["R/E", "L/E", "E/E", "netR/E", "ROX/E"], "range": ["#008000", "#ff0000", "#0000ff", "#00ff00", "#808080"]}, "legend": null}}},
                      {"mark": {"type": "text", "baseline": "bottom", "dy": -6, "fontSize": 10, "color": "#222222"},
                       "encoding": {"text": {"field": "fcr", "type": "quantitative", "format": ".2f"}}}
                    ]
                  }
                ]
              }
            ]
          },
          {
            "width": 1030, "height": 2,
            "data": {"values": [{"k": 1}]},
            "mark": {"type": "rect", "color": "black"},
            "encoding": {"x": {"datum": 0, "type": "quantitative", "scale": {"domain": [33, 1063], "nice": false, "zero": false}, "axis": null}, "x2": {"datum": 1063}}
          },
          {
            "width": 440, "height": 15,
            "data": {"values": [{"col": "A", "text": "Last update: 2009-12-08"}]},
            "transform": [{"lookup": "col", "from": {"data": {"name": "columns"}, "key": "col", "fields": ["s"]}}],
            "mark": {"type": "text", "font": "DejaVu Sans", "fontSize": 9, "color": "#a6a6a6", "align": "left", "baseline": "middle", "dx": 3},
            "encoding": {"x": {"field": "s", "type": "quantitative", "scale": {"domain": [33, 473], "nice": false, "zero": false}, "axis": null}, "text": {"field": "text"}}
          }
        ]
      }
    ]
  },
  {
    "width": 1101, "height": 18,
    "layer": [
      {"data": {"values": [{"k": 1}]},
       "mark": {"type": "rect", "color": "#e1e9f5"},
       "encoding": {
         "x": {"datum": 0, "type": "quantitative", "scale": {"domain": [0, 1101], "nice": false, "zero": false}, "axis": null},
         "x2": {"datum": 37},
         "y": {"datum": 12, "type": "quantitative", "scale": {"domain": [0, 20], "nice": false, "zero": false}, "axis": null},
         "y2": {"datum": 20}
       }},
      {"data": {"values": [{"text": "42"}]},
       "mark": {"type": "text", "font": "DejaVu Sans", "fontSize": 10.5, "color": "#333333", "baseline": "middle"},
       "encoding": {"x": {"datum": 19, "type": "quantitative", "axis": null}, "y": {"datum": 13.5, "type": "quantitative", "axis": null}, "text": {"field": "text"}}},
      {"data": {"values": [{"text": "ROP: Phosphorylation Control Protocol: This DL Analysis demo displays mitochondrial O2 flux (left bar graph, corrected for ROX; see number on top of figure for ROX flux)"}]},
       "mark": {"type": "text", "font": "DejaVu Sans", "fontSize": 10.5, "color": "black", "align": "left", "baseline": "middle"},
       "encoding": {"x": {"datum": 41, "type": "quantitative", "axis": null}, "y": {"datum": 13.5, "type": "quantitative", "axis": null}, "text": {"field": "text"}}},
      {"data": {"values": [{"k": 1}]},
       "mark": {"type": "rect", "color": "#dfe6ef"},
       "encoding": {"x": {"datum": 0, "type": "quantitative", "axis": null}, "x2": {"datum": 1101}, "y": {"datum": 0, "type": "quantitative", "axis": null}, "y2": {"datum": 12}}},
      {"data": {"name": "tabs"},
       "transform": [{"filter": "datum.kind !== 'nav'"}],
       "mark": {"type": "rect", "stroke": "#7f93ad", "strokeWidth": 1},
       "encoding": {
         "x": {"field": "s", "type": "quantitative", "axis": null}, "x2": {"field": "e"},
         "y": {"datum": 0, "type": "quantitative", "axis": null}, "y2": {"datum": 12},
         "fill": {"condition": {"test": "datum.kind === 'active'", "value": "#ffffff"}, "value": "#e9eef5"}
       }},
      {"data": {"name": "tabs"},
       "transform": [{"filter": "datum.kind === 'active'"}, {"fold": ["s", "e"]}],
       "mark": {"type": "text", "font": "DejaVu Sans", "fontSize": 10, "fontWeight": "bold", "color": "#1a1a1a", "baseline": "middle"},
       "encoding": {"x": {"aggregate": "mean", "field": "value", "type": "quantitative", "axis": null}, "y": {"datum": 6, "type": "quantitative", "axis": null}, "text": {"field": "label", "type": "nominal"}}},
      {"data": {"name": "tabs"},
       "transform": [{"filter": "datum.kind === 'tab' || datum.kind === 'nav'"}, {"fold": ["s", "e"]}],
       "mark": {"type": "text", "font": "DejaVu Sans", "fontSize": 10, "color": "#1f3b6e", "baseline": "middle"},
       "encoding": {"x": {"aggregate": "mean", "field": "value", "type": "quantitative", "axis": null}, "y": {"datum": 6, "type": "quantitative", "axis": null}, "text": {"field": "label", "type": "nominal"}}}
    ]
  }
]
}
